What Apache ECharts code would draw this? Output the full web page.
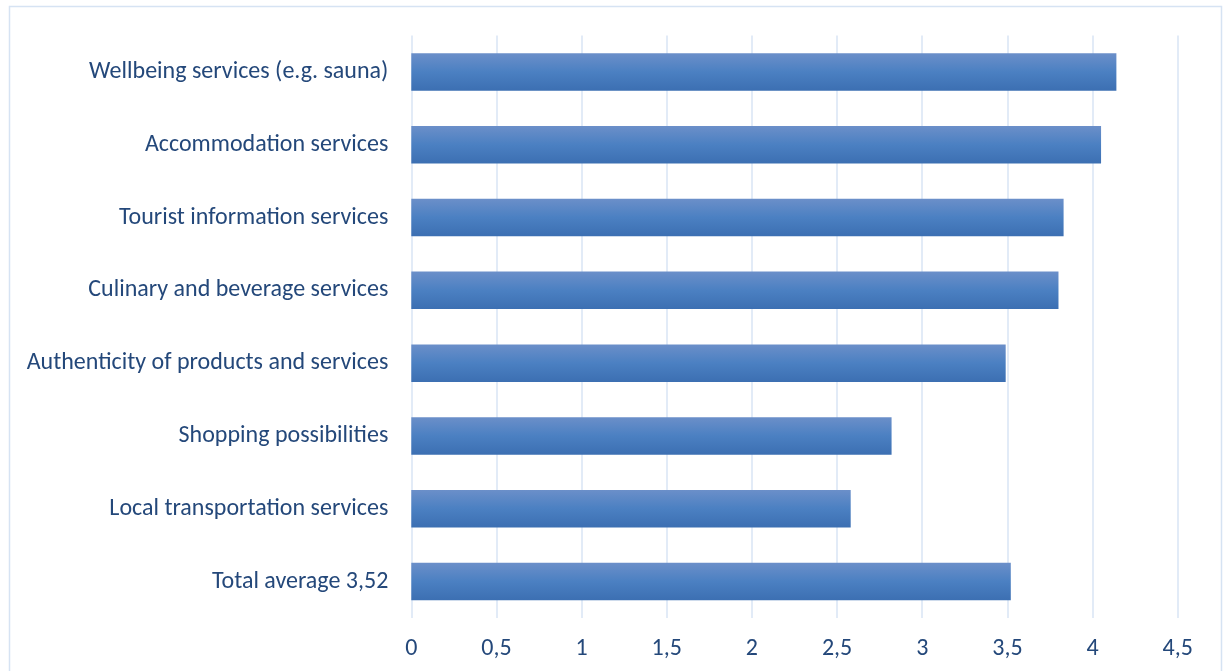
<!DOCTYPE html>
<html>
<head>
<meta charset="utf-8">
<script src="https://cdn.jsdelivr.net/npm/echarts@6/dist/echarts.min.js"></script>
<style>
  html, body { margin: 0; padding: 0; background: #ffffff; }
  #chart { width: 1230px; height: 671px; }
</style>
</head>
<body>
<div id="chart"></div>
<script>
// Mean ratings of service quality, top to bottom
const categories = [
  'Wellbeing services (e.g. sauna)',
  'Accommodation services',
  'Tourist information services',
  'Culinary and beverage services',
  'Authenticity of products and services',
  'Shopping possibilities',
  'Local transportation services',
  'Total average 3,52'
];
const ratings = [4.14, 4.05, 3.83, 3.80, 3.49, 2.82, 2.58, 3.52];

const axisMin = 0;
const axisMax = 4.5;
const axisStep = 0.5;

const textColor = '#24487a';
const gridColor = '#d9e4f4';
const fontFamily = 'Calibri, Carlito, Lato, sans-serif';

const chart = echarts.init(document.getElementById('chart'), null, { renderer: 'canvas' });

chart.setOption({
  animation: false,
  backgroundColor: '#ffffff',
  graphic: [{
    type: 'rect',
    shape: { x: 9.5, y: 6.5, width: 1212, height: 700 },
    style: { fill: 'none', stroke: '#d6e3f3', lineWidth: 1.5 },
    silent: true
  }],
  grid: { left: 411.3, right: 52.3, top: 35.6, height: 582.3, containLabel: false },
  xAxis: {
    type: 'value',
    min: axisMin,
    max: axisMax,
    interval: axisStep,
    axisLine: { show: false },
    axisTick: { show: false },
    splitLine: { show: true, lineStyle: { color: gridColor, width: 1.5 } },
    axisLabel: {
      color: textColor,
      fontSize: 24,
      fontFamily: fontFamily,
      margin: 19,
      formatter: v => String(v).replace('.', ',')
    }
  },
  yAxis: {
    type: 'category',
    data: categories,
    inverse: true,
    axisLine: { show: false },
    axisTick: { show: false },
    splitLine: { show: false },
    axisLabel: {
      color: textColor,
      fontSize: 24,
      fontFamily: fontFamily,
      margin: 23
    }
  },
  series: [{
    type: 'bar',
    data: ratings,
    barWidth: 37.5,
    itemStyle: {
      color: new echarts.graphic.LinearGradient(0, 0, 0, 1, [
        { offset: 0, color: '#6b8fc9' },
        { offset: 0.5, color: '#4b80c2' },
        { offset: 1, color: '#3c6fb2' }
      ])
    }
  }]
});
</script>
</body>
</html>
